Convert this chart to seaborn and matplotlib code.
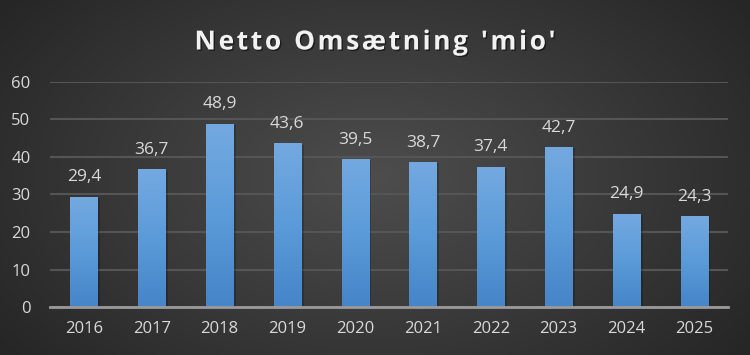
import numpy as np
import pandas as pd
import matplotlib
matplotlib.use('Agg')
import matplotlib.pyplot as plt
import matplotlib.patheffects as pe
import seaborn as sns
from matplotlib.colors import LinearSegmentedColormap

# Data
years = ['2016', '2017', '2018', '2019', '2020', '2021', '2022', '2023', '2024', '2025']
omsaetning = [29.4, 36.7, 48.9, 43.6, 39.5, 38.7, 37.4, 42.7, 24.9, 24.3]
labels = ['29,4', '36,7', '48,9', '43,6', '39,5', '38,7', '37,4', '42,7', '24,9', '24,3']
title = "Netto Omsætning 'mio'"

df = pd.DataFrame({'year': years, 'value': omsaetning})

sns.set_theme(style='dark')
plt.rcParams['font.family'] = ['Open Sans', 'DejaVu Sans']

fig = plt.figure(figsize=(7.5, 3.55), dpi=100)

# radial background
bg = fig.add_axes([0, 0, 1, 1], zorder=-10)
xx, yy = np.meshgrid(np.linspace(-1, 1, 400), np.linspace(-1, 1, 200))
r = np.sqrt(xx ** 2 + (yy / 1.3) ** 2)
bg_cmap = LinearSegmentedColormap.from_list('bg', ['#4d4d4d', '#3a3a3a', '#262626'])
bg.imshow(r, cmap=bg_cmap, aspect='auto', extent=[0, 1, 0, 1], vmin=0, vmax=1.25)
bg.axis('off')

ax = fig.add_axes([50 / 750, (355 - 307) / 355, 678 / 750, 225 / 355])
ax.patch.set_alpha(0)

sns.barplot(data=df, x='year', y='value', width=0.4, color='#5b9bd5',
            edgecolor='none', linewidth=0, ax=ax, zorder=3)

ax.set_yticks(range(0, 61, 10))
ax.grid(axis='y', color='#555555', linewidth=1.5, zorder=0)
ax.grid(axis='x', visible=False)
for s in ['top', 'right', 'left']:
    ax.spines[s].set_visible(False)
ax.spines['bottom'].set_color('#9a9a9a')
ax.spines['bottom'].set_linewidth(2)
ax.spines['bottom'].set_zorder(5)
ax.tick_params(axis='both', colors='#d9d9d9', labelsize=12, length=0)
ax.tick_params(axis='x', pad=10)
ax.tick_params(axis='y', pad=14)
ax.set_xlabel('')
ax.set_ylabel('')

# gradient fill on bars
bar_cmap = LinearSegmentedColormap.from_list('bar', ['#4585c8', '#5b9bd9', '#74a9e0'])
grad = np.linspace(0, 1, 256).reshape(-1, 1)
for p, lab in zip(ax.patches, labels):
    x0, w, h = p.get_x(), p.get_width(), p.get_height()
    im = ax.imshow(grad, cmap=bar_cmap, origin='lower', aspect='auto',
                   extent=[x0, x0 + w, 0, h], zorder=3.5)
    im.set_clip_path(p)
    p.set_path_effects([pe.SimplePatchShadow(offset=(2, -1), shadow_rgbFace='black', alpha=0.2),
                        pe.Normal()])
    ax.text(x0 + w / 2, h + 3, lab, ha='center', va='bottom', color='#d9d9d9', fontsize=12.5)

ax.set_xlim(-0.5, 9.5)
ax.set_ylim(0, 60)

# title with letter spacing, placed char by char
fig.canvas.draw()
renderer = fig.canvas.get_renderer()
fs = 19
spacing = 2.6
widths = []
for ch in title:
    t = fig.text(0, 0, ch if ch != ' ' else 'n', fontsize=fs, fontweight='bold')
    wpx = t.get_window_extent(renderer).width
    if ch == ' ':
        wpx *= 0.45
    widths.append(wpx)
    t.remove()
total = sum(widths) + spacing * (len(title) - 1)
xpos = 375 - total / 2
for ch, wpx in zip(title, widths):
    if ch != ' ':
        fig.text(xpos / 750, 1 - 42 / 355, ch, ha='left', va='center', color='#f2f2f2',
                 fontsize=fs, fontweight='bold',
                 path_effects=[pe.withSimplePatchShadow(offset=(1, -1), shadow_rgbFace='black', alpha=0.5)])
    xpos += wpx + spacing

fig.savefig('out.png', dpi=100)
